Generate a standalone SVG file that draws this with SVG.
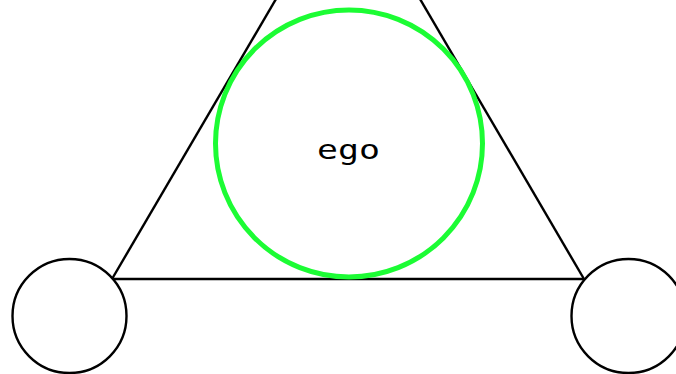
<svg xmlns="http://www.w3.org/2000/svg" width="676" height="374" viewBox="0 0 676 374">
<style>
.edge{stroke:#000;stroke-width:2.4;fill:none}
.node{fill:#fff;stroke:#000;stroke-width:2.4}
.ego{fill:none;stroke:#1cfc34;stroke-width:5}
.lbl{font-family:"DejaVu Sans Mono","Liberation Mono",monospace;font-size:27px;fill:#000}
</style>
<rect width="676" height="374" fill="#fff"/>
<g id="connectors">
<line class="edge" x1="112" y1="279" x2="276" y2="-1"/>
<line class="edge" x1="584" y1="279" x2="420" y2="-1"/>
<line class="edge" x1="112" y1="279" x2="584" y2="279"/>
</g>
<g id="node-ego">
<circle class="ego" cx="349" cy="143.5" r="133.5"/>
<text class="lbl" x="317" y="159" textLength="63" lengthAdjust="spacingAndGlyphs">ego</text>
</g>
<g id="node-left">
<circle class="node" cx="69.5" cy="316" r="57"/>
</g>
<g id="node-right">
<circle class="node" cx="628.5" cy="316" r="57"/>
</g>
</svg>
